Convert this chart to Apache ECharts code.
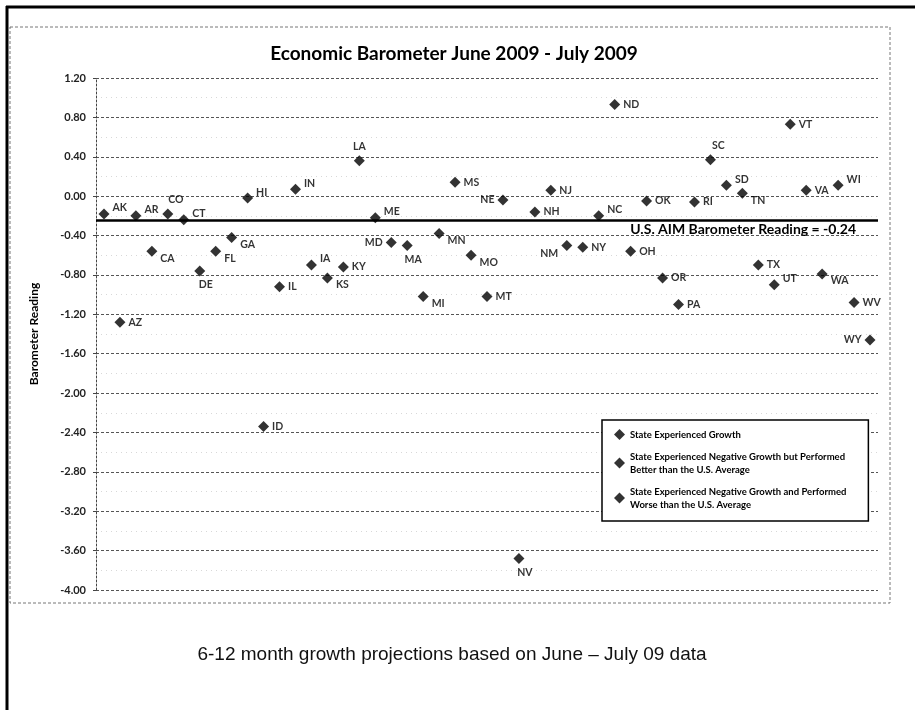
<!DOCTYPE html>
<html>
<head>
<meta charset="utf-8">
<title>Economic Barometer June 2009 - July 2009</title>
<script src="https://cdn.jsdelivr.net/npm/echarts@6/dist/echarts.min.js"></script>
<style>
  html, body { margin: 0; padding: 0; background: #fff; }
  #main { width: 915px; height: 710px; }
</style>
</head>
<body>
<div id="main"></div>
<script>
// states in the order they sit along the x axis
const states = ['AK', 'AZ', 'AR', 'CA', 'CO', 'CT', 'DE', 'FL', 'GA', 'HI',
  'ID', 'IL', 'IN', 'IA', 'KS', 'KY', 'LA', 'ME', 'MD', 'MA',
  'MI', 'MN', 'MS', 'MO', 'MT', 'NE', 'NV', 'NH', 'NJ', 'NM',
  'NY', 'NC', 'ND', 'OH', 'OK', 'OR', 'PA', 'RI', 'SC', 'SD',
  'TN', 'TX', 'UT', 'VT', 'VA', 'WA', 'WI', 'WV', 'WY'];

// barometer readings
const readings = [-0.18, -1.28, -0.20, -0.56, -0.18, -0.24, -0.76, -0.56, -0.42, -0.02,
  -2.34, -0.92, 0.07, -0.70, -0.83, -0.72, 0.36, -0.22, -0.47, -0.50,
  -1.02, -0.38, 0.14, -0.60, -1.02, -0.04, -3.68, -0.16, 0.06, -0.50,
  -0.52, -0.20, 0.93, -0.56, -0.05, -0.83, -1.10, -0.06, 0.37, 0.11,
  0.03, -0.70, -0.90, 0.73, 0.06, -0.79, 0.11, -1.08, -1.46];

// U.S. average reading
const usAvg = -0.24;

// y axis ticks
const yMin = -4.0;
const yMax = 1.2;
const yStep = 0.4;

const groupNames = [
  'State Experienced Growth',
  'State Experienced Negative Growth but Performed Better than the U.S. Average',
  'State Experienced Negative Growth and Performed Worse than the U.S. Average'
];

// where each state label sits next to its diamond
const labelSpot = {
  AK: 'ru', AR: 'ru', CA: 'rd', CO: 'tr', CT: 'ru', DE: 'b', FL: 'rd', GA: 'rd', HI: 'ru',
  IN: 'ru', IA: 'ru', KS: 'rd', LA: 't', ME: 'ru', MD: 'l', MA: 'b', MI: 'rd', MN: 'rd',
  MO: 'rd', NE: 'l', NV: 'b', NM: 'ld', NC: 'ru', SC: 'tr', SD: 'ru', TN: 'rd', UT: 'ru',
  WA: 'rd', WI: 'ru', WY: 'l'
};
const spotStyle = {
  r: ['right', [0, 0]],
  ru: ['right', [0, -6]],
  rd: ['right', [0, 7]],
  t: ['top', [0, 0]],
  tr: ['top', [8, 0]],
  b: ['bottom', [6, 0]],
  l: ['left', [0, 0]],
  ld: ['left', [0, 8]]
};

const baseFont = 'Lato, "Open Sans", sans-serif';

function pointsFor(group) {
  const out = [];
  states.forEach((s, i) => {
    const v = readings[i];
    let g = 2;
    if (v > 0) g = 0;
    else if (v >= usAvg) g = 1;
    if (g !== group) return;
    const st = spotStyle[labelSpot[s] || 'r'];
    out.push({
      name: s,
      value: [s, v],
      label: { position: st[0], offset: st[1] }
    });
  });
  return out;
}

const myChart = echarts.init(document.getElementById('main'));

const series = groupNames.map((name, g) => ({
  name: name,
  type: 'scatter',
  symbol: 'diamond',
  symbolSize: 11,
  itemStyle: { color: '#000' },
  label: {
    show: true,
    formatter: p => p.name,
    distance: 3,
    fontFamily: baseFont,
    fontWeight: 'bold',
    fontSize: 10.5,
    color: '#000'
  },
  data: pointsFor(g)
}));

// the U.S. average line goes on the first series
series[0].markLine = {
  silent: true,
  symbol: 'none',
  lineStyle: { color: '#000', width: 2.5, type: 'solid' },
  label: {
    position: 'insideEndBottom',
    formatter: 'U.S. AIM Barometer Reading = ' + usAvg.toFixed(2),
    fontFamily: baseFont,
    fontWeight: 'bold',
    fontSize: 14,
    color: '#000',
    distance: [22, 3]
  },
  data: [{ yAxis: usAvg }]
};

const options = {
  backgroundColor: '#fff',
  animation: false,
  title: {
    text: 'Economic Barometer June 2009 - July 2009',
    left: 449,
    top: 39,
    textAlign: 'center',
    textStyle: {
      fontFamily: baseFont,
      fontWeight: 'bold',
      fontSize: 19,
      color: '#000'
    }
  },
  grid: {
    left: 96,
    right: 37,
    top: 78,
    bottom: 120
  },
  legend: {
    orient: 'vertical',
    left: 602,
    top: 420,
    padding: [8, 22, 10, 12],
    itemGap: 9,
    itemWidth: 11,
    itemHeight: 11,
    icon: 'diamond',
    backgroundColor: '#fff',
    borderColor: '#000',
    borderWidth: 1.5,
    borderRadius: 0,
    formatter: name => name.replace(' Better', '\nBetter').replace(' Worse', '\nWorse'),
    textStyle: {
      fontFamily: baseFont,
      fontWeight: 'bold',
      fontSize: 9.5,
      lineHeight: 13,
      color: '#000'
    },
    data: groupNames
  },
  xAxis: {
    type: 'category',
    data: states,
    boundaryGap: true,
    axisLine: { show: false },
    axisTick: { show: false },
    axisLabel: { show: false },
    splitLine: { show: false }
  },
  yAxis: {
    type: 'value',
    min: yMin,
    max: yMax,
    interval: yStep,
    name: 'Barometer Reading',
    nameLocation: 'middle',
    nameGap: 56,
    nameTextStyle: {
      fontFamily: baseFont,
      fontWeight: 'bold',
      fontSize: 12,
      color: '#000'
    },
    axisLine: {
      show: true,
      lineStyle: { color: '#444', width: 1, type: [2, 2] }
    },
    axisTick: {
      show: true,
      length: 3,
      lineStyle: { color: '#444' }
    },
    axisLabel: {
      formatter: v => v.toFixed(2),
      margin: 10,
      fontFamily: baseFont,
      fontWeight: 'bold',
      fontSize: 11,
      color: '#222'
    },
    splitLine: {
      show: true,
      lineStyle: { color: '#555', width: 1, type: [3, 2] }
    },
    minorTick: { show: false, splitNumber: 2 },
    minorSplitLine: {
      show: true,
      lineStyle: { color: '#d8d8d8', width: 1, type: [1, 4] }
    }
  },
  graphic: [
    // page frame from the scan
    { type: 'line', shape: { x1: 7, y1: 6, x2: 7, y2: 710 }, style: { stroke: '#000', lineWidth: 3 } },
    { type: 'line', shape: { x1: 6, y1: 7, x2: 915, y2: 7 }, style: { stroke: '#000', lineWidth: 3 } },
    // chart area border
    {
      type: 'rect',
      shape: { x: 10, y: 27, width: 880, height: 576 },
      style: { fill: 'none', stroke: '#777', lineWidth: 1, lineDash: [3, 2] }
    },
    {
      type: 'text',
      x: 452,
      y: 655,
      style: {
        text: '6-12 month growth projections based on June \u2013 July 09 data',
        fontFamily: '"Liberation Sans", Arial, sans-serif',
        fontSize: 19,
        fill: '#111',
        align: 'center',
        verticalAlign: 'middle'
      }
    }
  ],
  series: series
};

myChart.setOption(options);
</script>
</body>
</html>
